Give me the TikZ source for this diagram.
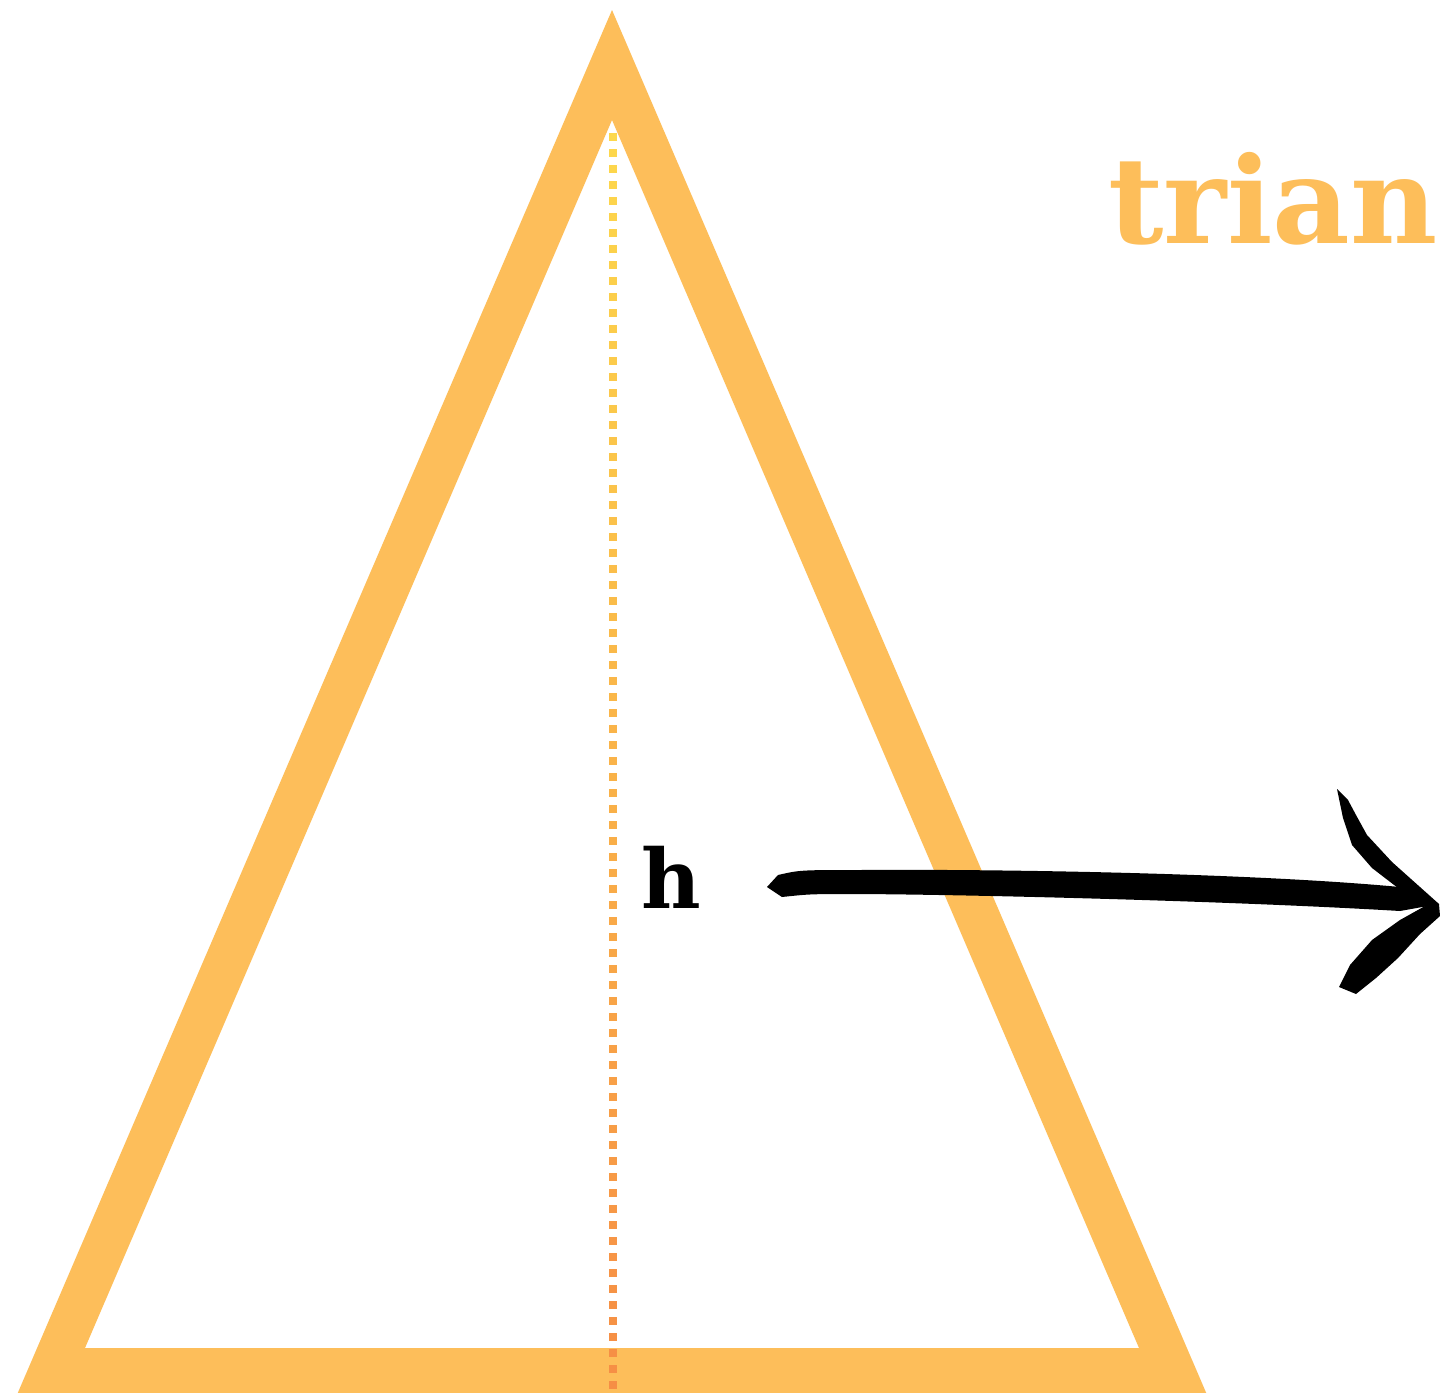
\documentclass[tikz,border=0pt]{standalone}
\usepackage{fontspec}
\newfontfamily\titlefont{DejaVu Serif}
\usetikzlibrary{positioning}
\definecolor{triorange}{HTML}{FDBE5A}
\definecolor{dotyellow}{HTML}{FDD84C}
\definecolor{dotorange}{HTML}{F68E45}
\tikzset{
  brush/.style={fill=black},
  dotsq/.style={fill=#1}
}
\begin{document}
\begin{tikzpicture}[x=0.5pt,y=-0.5pt]
\useasboundingbox (0,0) rectangle (1440,1392);
\clip (0,0) rectangle (1440,1392);
\fill[white] (0,0) rectangle (1440,1392);
% triangle outline as a ring
\fill[triorange,even odd rule] (612,10) -- (1223,1432) -- (1,1432) -- cycle
  (612,120) -- (1139,1348) -- (85,1348) -- cycle;
% dotted height line, yellow to orange
\foreach \i in {0,...,78} {
  \pgfmathtruncatemacro\p{100-\i*100/78}
  \fill[dotsq=dotyellow!\p!dotorange] (608.5,132.5+16*\i) rectangle ++(8,8);
}
\node[font=\titlefont\bfseries\fontsize{60}{60}\selectfont,text=triorange,anchor=base west,inner sep=0] (title) at (1108,243) {trian};
\node[font=\titlefont\bfseries\fontsize{41}{41}\selectfont,anchor=base,inner sep=0] (hlabel) at (671,908) {h};
% hand drawn arrow
\coordinate (tail) at (767,887);
\coordinate (tip) at (1439,904);
\fill[brush] (tail) -- (778,875) .. controls (800,870) .. (860,870) .. controls (1000,869) and (1250,873) .. (1400,887) -- (tip) -- (1400,911) .. controls (1250,902) and (1000,895) .. (860,894) .. controls (810,894) .. (782,897) -- cycle;
\fill[brush] (1337,789) -- (1348,800) -- (1356,815) -- (1367,835) -- (1392,862) -- (tip) -- ++(-8,7) -- (1398,888) -- (1372,868) -- (1352,845) -- (1343,818) -- cycle;
\fill[brush] (tip) -- ++(1,12) -- (1420,934) -- (1398,958) -- (1376,978) -- (1356,994) -- (1339,987) -- (1350,965) -- (1372,940) -- (1400,920) -- (1425,906) -- cycle;
\end{tikzpicture}
\end{document}
